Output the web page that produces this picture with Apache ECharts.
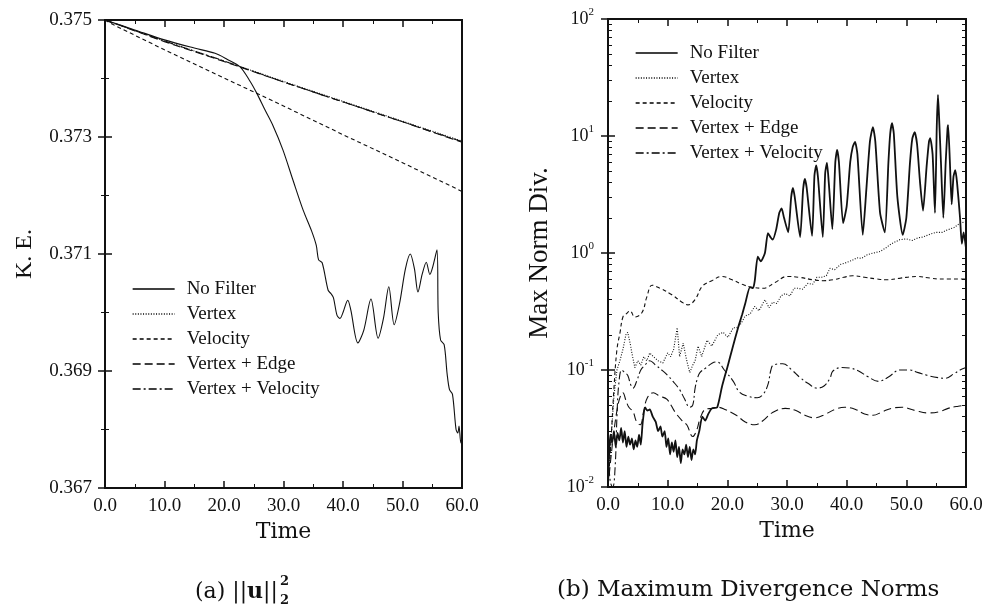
<!DOCTYPE html>
<html>
<head>
<meta charset="utf-8">
<script src="https://cdn.jsdelivr.net/npm/echarts@6/dist/echarts.min.js"></script>
<style>
html,body{margin:0;padding:0;background:#fff;}
#main{width:989px;height:609px;}
</style>
</head>
<body>
<div id="main"></div>
<script>
// ---------- DATA ----------
const seriesNames = ['No Filter', 'Vertex', 'Velocity', 'Vertex + Edge', 'Vertex + Velocity'];
const timeTicks = [0, 10, 20, 30, 40, 50, 60];
const keTicks = [0.367, 0.369, 0.371, 0.373, 0.375];
const divTicks = [0.01, 0.1, 1, 10, 100];

// (a) kinetic energy
const keNoFilter = [[0,0.375],[5,0.37483],[10,0.37466],[15,0.37452],[18.5,0.37443],[20.5,0.37433],[22.7,0.3742],[24.4,0.37395],[25.5,0.37375],[26.9,0.37346],[28.2,0.3732],[29.9,0.37278],[31.6,0.37226],[33.3,0.37175],[34.7,0.3714],[35.5,0.37115],[35.9,0.3709],[36.5,0.37085],[37.5,0.37038],[38.0,0.37032],[38.4,0.37025],[39.0,0.36995],[39.5,0.3699],[40.0,0.37],[40.8,0.37021],[41.3,0.37005],[42.5,0.36948],[43.5,0.3697],[44.7,0.37023],[45.9,0.36956],[46.8,0.3699],[47.7,0.37044],[48.6,0.36979],[49.5,0.37015],[50.5,0.37075],[51.3,0.371],[52.0,0.37075],[52.6,0.37035],[53.3,0.37065],[54.0,0.37086],[54.6,0.37065],[55.0,0.37075],[55.8,0.37107],[56.0,0.3700],[56.4,0.36953],[57.0,0.36945],[57.5,0.36895],[57.9,0.36868],[58.4,0.3686],[59.0,0.3680],[59.3,0.36794],[59.5,0.36806],[59.8,0.36777],[60,0.36787]];
const keVertex = [[0,0.375],[10,0.37464],[20,0.3743],[30,0.37395],[40,0.37361],[50,0.37327],[60,0.37293]];
const keVelocity = [[0,0.375],[1,0.37494],[10,0.37449],[20,0.37401],[30,0.37353],[40,0.37304],[50,0.37256],[60,0.37207]];
const keVertexEdge = [[0,0.375],[10,0.37463],[20,0.37429],[30,0.37394],[40,0.3736],[50,0.37326],[60,0.37291]];
const keVertexVelocity = [[0,0.375],[10,0.37464],[20,0.3743],[30,0.37394],[40,0.3736],[50,0.37326],[60,0.37292]];

// (b) maximum divergence norms
const divNoFilter = [[0,0.011],[0.2,0.02],[0.4,0.028],[0.7,0.024],[1.0,0.03],[1.3,0.022],[1.6,0.029],[1.9,0.025],[2.2,0.032],[2.5,0.024],[2.8,0.03],[3.1,0.022],[3.4,0.027],[3.7,0.023],[4.0,0.026],[4.3,0.021],[4.6,0.025],[4.9,0.022],[5.2,0.028],[5.5,0.023],[5.8,0.035],[6.2,0.048],[6.6,0.045],[7.0,0.046],[7.5,0.04],[8.0,0.036],[8.4,0.03],[8.8,0.033],[9.1,0.027],[9.5,0.03],[9.8,0.022],[10.1,0.026],[10.4,0.019],[10.7,0.024],[11.0,0.02],[11.3,0.025],[11.6,0.018],[11.9,0.022],[12.2,0.016],[12.5,0.021],[12.8,0.019],[13.1,0.023],[13.4,0.018],[13.7,0.022],[14.0,0.017],[14.3,0.021],[14.6,0.019],[14.9,0.025],[15.3,0.03],[15.8,0.04],[16.3,0.037],[16.8,0.042],[17.4,0.047],[18.3,0.048],[19.1,0.072],[20.1,0.11],[20.8,0.15],[21.8,0.23],[22.5,0.3],[23.0,0.37],[23.8,0.51],[24.3,0.5],[24.6,0.58],[25.1,0.93],[25.6,0.85],[26.3,1.0],[26.8,1.48],[27.3,1.35],[27.6,1.3],[28.2,1.6],[28.7,2.2],[29.1,2.4],[29.5,2.0],[30.2,1.5],[30.7,3.0],[31.0,3.6],[31.3,3.0],[32.2,1.37],[32.7,3.5],[33.0,4.3],[33.3,3.6],[34.2,1.4],[34.6,4.6],[34.9,5.6],[35.2,4.4],[36.0,1.37],[36.4,4.8],[36.7,5.9],[37.0,4.0],[37.6,1.6],[38.1,6.0],[38.4,7.6],[38.7,6.0],[39.4,1.8],[40.0,2.5],[40.6,6.0],[41.0,8.0],[41.4,8.9],[41.8,7.0],[42.7,1.43],[43.3,3.5],[43.9,9.0],[44.4,11.9],[44.8,9.0],[45.6,2.2],[46.4,1.5],[47.0,6.0],[47.3,10.5],[47.6,12.9],[47.9,10.5],[48.5,3.0],[49.4,1.43],[50.0,2.0],[50.6,5.8],[51.0,9.5],[51.4,10.8],[51.8,8.5],[52.3,4.0],[52.8,2.3],[53.4,5.5],[53.8,9.0],[54.0,9.6],[54.4,7.0],[54.8,2.2],[55.1,12.0],[55.3,22.4],[55.5,14.0],[55.8,6.0],[56.2,2.0],[56.6,6.0],[56.9,11.5],[57.0,12.4],[57.3,6.0],[57.6,2.6],[57.9,4.5],[58.2,5.1],[58.5,4.0],[59.0,2.0],[59.3,1.2],[59.6,1.5],[60,1.1]];
const divVertex = [[0,0.01],[0.5,0.025],[1.0,0.06],[1.5,0.1],[2.0,0.12],[2.5,0.15],[3.0,0.2],[3.3,0.21],[3.7,0.17],[4.0,0.14],[4.5,0.105],[5.0,0.12],[5.5,0.11],[6.0,0.13],[6.5,0.12],[7.0,0.14],[7.6,0.13],[8.4,0.12],[9.2,0.115],[10.0,0.14],[10.5,0.13],[11.0,0.15],[11.6,0.23],[12.0,0.13],[12.6,0.17],[13.2,0.12],[13.7,0.095],[14.2,0.11],[14.6,0.12],[15.1,0.16],[15.7,0.13],[16.6,0.18],[17.4,0.16],[18.4,0.2],[19.3,0.21],[20.1,0.19],[21.0,0.23],[21.6,0.23],[22.3,0.25],[23.0,0.29],[23.8,0.3],[24.6,0.35],[25.3,0.32],[26.3,0.40],[27.0,0.34],[27.6,0.38],[28.3,0.37],[29.0,0.43],[29.7,0.45],[30.5,0.43],[31.2,0.50],[31.8,0.50],[32.6,0.49],[33.5,0.55],[34.3,0.54],[35.0,0.62],[35.8,0.62],[36.6,0.64],[37.2,0.74],[38.0,0.72],[39.0,0.80],[40.0,0.83],[41.0,0.87],[41.7,0.91],[42.5,0.90],[43.5,0.97],[44.5,1.0],[45.6,1.03],[46.5,1.1],[47.5,1.2],[48.9,1.3],[50.0,1.32],[51.0,1.28],[52.0,1.35],[52.8,1.37],[54.0,1.45],[55.0,1.5],[56.0,1.5],[56.8,1.57],[58.0,1.65],[59.0,1.8],[60,1.85]];
const divVelocity = [[0,0.01],[0.5,0.025],[1.0,0.07],[1.5,0.15],[2.0,0.207],[2.5,0.284],[3.0,0.3],[3.7,0.32],[4.5,0.284],[5.7,0.31],[6.5,0.42],[7.4,0.53],[8.7,0.50],[10.7,0.44],[12.4,0.38],[13.4,0.36],[14.6,0.40],[15.8,0.52],[17.4,0.58],[19.1,0.63],[20.8,0.59],[22.5,0.54],[24.1,0.51],[26.0,0.50],[28.0,0.56],[30.0,0.63],[32.0,0.62],[34.4,0.59],[36.0,0.58],[37.7,0.59],[39.5,0.62],[41.0,0.64],[43.0,0.62],[45.0,0.60],[46.8,0.59],[49.0,0.61],[51.8,0.63],[54.0,0.61],[55.6,0.60],[60,0.60]];
const divVertexEdge = [[0,0.01],[0.5,0.018],[1.0,0.03],[1.5,0.045],[2.0,0.058],[2.5,0.064],[3.0,0.055],[3.5,0.048],[4.2,0.044],[4.8,0.036],[5.4,0.034],[6.0,0.045],[6.6,0.058],[7.6,0.064],[8.6,0.06],[9.9,0.056],[11.2,0.044],[12.4,0.037],[13.2,0.034],[14.2,0.027],[14.9,0.031],[15.4,0.038],[16.3,0.046],[17.6,0.047],[18.5,0.048],[19.6,0.046],[21.5,0.041],[23.0,0.036],[24.6,0.034],[26.0,0.037],[27.5,0.043],[29.7,0.047],[31.5,0.045],[33.0,0.041],[34.7,0.039],[36.5,0.042],[38.0,0.046],[39.7,0.048],[41.5,0.046],[43.0,0.042],[44.4,0.041],[46.0,0.044],[47.5,0.047],[49.3,0.048],[51.5,0.045],[53.6,0.043],[55.5,0.044],[57.0,0.047],[58.7,0.049],[60,0.05]];
const divVertexVelocity = [[0,0.02],[0.4,0.011],[0.8,0.01],[1.2,0.015],[1.5,0.04],[1.8,0.075],[2.3,0.1],[2.8,0.095],[3.3,0.09],[3.8,0.075],[4.2,0.07],[4.8,0.08],[5.5,0.1],[6.2,0.11],[7.0,0.12],[8.0,0.11],[9.0,0.1],[10.0,0.09],[10.9,0.08],[12.0,0.068],[12.8,0.057],[13.7,0.048],[14.2,0.05],[14.6,0.07],[15.0,0.085],[15.4,0.095],[16.5,0.105],[17.5,0.115],[18.3,0.117],[19.5,0.1],[21.0,0.08],[22.0,0.065],[23.3,0.06],[25.0,0.058],[26.0,0.062],[26.8,0.075],[27.3,0.1],[27.7,0.11],[29.3,0.113],[30.8,0.1],[32.2,0.086],[33.5,0.077],[35.0,0.07],[36.2,0.073],[37.2,0.085],[37.7,0.098],[39.2,0.105],[40.5,0.104],[42.0,0.098],[43.5,0.088],[45.3,0.08],[47.0,0.087],[48.9,0.1],[50.5,0.1],[52.0,0.095],[53.5,0.09],[55.3,0.086],[56.5,0.085],[58.0,0.093],[59.0,0.1],[60,0.105]];

const divMinorTicks = [0.02,0.03,0.04,0.05,0.06,0.07,0.08,0.09,0.2,0.3,0.4,0.5,0.6,0.7,0.8,0.9,2,3,4,5,6,7,8,9,20,30,40,50,60,70,80,90];

// ---------- STYLE ----------
const INK = '#111';
const serif = 'Liberation Serif';
const dashes = {
  'No Filter': 'solid',
  'Vertex': [1, 1.6],
  'Velocity': [4, 3],
  'Vertex + Edge': [8, 4],
  'Vertex + Velocity': [8, 3, 2, 3]
};

function xAxisDef(grid, pos, showLabel, withName) {
  return {
    type: 'value', gridIndex: grid, position: pos,
    min: timeTicks[0], max: timeTicks[timeTicks.length - 1], interval: timeTicks[1] - timeTicks[0],
    axisLine: { show: false },
    axisTick: { show: true, inside: true, length: 7, lineStyle: { color: INK, width: 1.5 } },
    minorTick: { show: true, splitNumber: 2, length: 4, lineStyle: { color: INK, width: 1 } },
    splitLine: { show: false },
    axisLabel: { show: showLabel, margin: 9, color: INK, fontFamily: serif, fontSize: 19, formatter: v => v.toFixed(1) },
    name: withName ? 'Time' : '', nameLocation: 'middle', nameGap: 31,
    nameTextStyle: { fontFamily: 'DejaVu Serif', fontSize: 22, color: INK }
  };
}
function keAxisDef(pos, showLabel) {
  return {
    type: 'value', gridIndex: 0, position: pos,
    min: keTicks[0], max: keTicks[keTicks.length - 1], interval: keTicks[1] - keTicks[0],
    axisLine: { show: false },
    axisTick: { show: true, inside: true, length: 7, lineStyle: { color: INK, width: 1.5 } },
    minorTick: { show: true, splitNumber: 2, length: 4, lineStyle: { color: INK, width: 1 } },
    splitLine: { show: false },
    axisLabel: { show: showLabel, margin: 13, color: INK, fontFamily: serif, fontSize: 19, formatter: v => v.toFixed(3) },
    name: showLabel ? 'K. E.' : '', nameLocation: 'middle', nameGap: 68, nameRotate: 90,
    nameTextStyle: { fontFamily: serif, fontSize: 24, color: INK }
  };
}
function divAxisDef(pos, major) {
  const ax = {
    type: 'log', logBase: 10, gridIndex: 1, position: pos,
    min: divTicks[0], max: divTicks[divTicks.length - 1],
    axisLine: { show: false },
    splitLine: { show: false },
    minorTick: { show: false }
  };
  if (major) {
    ax.axisTick = { show: true, inside: true, length: 7, lineStyle: { color: INK, width: 1.5 } };
    ax.axisLabel = {
      show: pos === 'left', margin: 14, color: INK,
      formatter: v => '{b|10}{s|' + Math.round(Math.log10(v)) + '}',
      rich: {
        b: { fontFamily: serif, fontSize: 18, lineHeight: 24, color: INK },
        s: { fontFamily: serif, fontSize: 11, lineHeight: 13, verticalAlign: 'top', color: INK }
      }
    };
    if (pos === 'left') {
      ax.name = 'Max Norm Div.'; ax.nameLocation = 'middle'; ax.nameGap = 55; ax.nameRotate = 90;
      ax.nameTextStyle = { fontFamily: serif, fontSize: 27, color: INK };
    }
  } else {
    ax.axisTick = { show: true, inside: true, length: 4, customValues: divMinorTicks, lineStyle: { color: INK, width: 1 } };
    ax.axisLabel = { show: false };
  }
  return ax;
}

const series = [];
const keData = [keNoFilter, keVertex, keVelocity, keVertexEdge, keVertexVelocity];
const divData = [divNoFilter, divVertex, divVelocity, divVertexEdge, divVertexVelocity];
seriesNames.forEach((n, i) => {
  series.push({
    name: n, type: 'line', xAxisIndex: 0, yAxisIndex: 0, data: keData[i],
    symbol: 'none', showSymbol: false, smooth: i === 0 ? 0.3 : false,
    lineStyle: { color: INK, width: 1.1, type: dashes[n] }, itemStyle: { color: INK }, z: 5 - i
  });
});
seriesNames.forEach((n, i) => {
  series.push({
    name: n, type: 'line', xAxisIndex: 2, yAxisIndex: 2, data: divData[i],
    symbol: 'none', showSymbol: false, smooth: i === 0 ? 0.2 : (i === 1 ? false : 0.4),
    lineStyle: { color: INK, width: i === 0 ? 1.8 : 1.1, type: dashes[n] }, itemStyle: { color: INK }, z: 5 - i
  });
});

const legendCommon = {
  orient: 'vertical', itemWidth: 42, itemHeight: 12, itemGap: 5, padding: 0, selectedMode: false,
  data: seriesNames,
  itemStyle: { opacity: 0, borderWidth: 0 },
  lineStyle: { width: 1.3, color: '#000', opacity: 1 },
  textStyle: { fontFamily: serif, fontSize: 19, color: INK, lineHeight: 20, padding: [0, 0, 0, 7] }
};

const option = {
  animation: false,
  backgroundColor: '#fff',
  grid: [
    { left: 105, top: 20, width: 357, height: 468, show: true, borderColor: INK, borderWidth: 2, backgroundColor: 'transparent' },
    { left: 608, top: 19, width: 358, height: 468, show: true, borderColor: INK, borderWidth: 2, backgroundColor: 'transparent' }
  ],
  xAxis: [xAxisDef(0, 'bottom', true, true), xAxisDef(0, 'top', false, false), xAxisDef(1, 'bottom', true, true), xAxisDef(1, 'top', false, false)],
  yAxis: [keAxisDef('left', true), keAxisDef('right', false), divAxisDef('left', true), divAxisDef('right', true), divAxisDef('left', false), divAxisDef('right', false)],
  legend: [
    Object.assign({ left: 132, top: 279 }, legendCommon),
    Object.assign({ left: 635, top: 43 }, legendCommon)
  ],
  graphic: [
    { type: 'text', left: 195, top: 581, style: { text: '{n|(a) ||}{u|u}{n|||}', rich: { n: { fontFamily: 'DejaVu Serif', fontSize: 22, fill: INK }, u: { fontFamily: 'DejaVu Serif', fontSize: 22, fontWeight: 'bold', fill: INK } } } },
    { type: 'text', left: 280, top: 575, style: { text: '2', fontFamily: 'DejaVu Serif', fontSize: 13, fontWeight: 'bold', fill: INK } },
    { type: 'text', left: 280, top: 594, style: { text: '2', fontFamily: 'DejaVu Serif', fontSize: 13, fontWeight: 'bold', fill: INK } },
    { type: 'text', left: 557, top: 579, style: { text: '(b) Maximum Divergence Norms', fontFamily: 'DejaVu Serif', fontSize: 23, fill: INK } }
  ],
  series: series
};

const chart = echarts.init(document.getElementById('main'), null, { renderer: 'canvas' });
chart.setOption(option);
</script>
</body>
</html>
